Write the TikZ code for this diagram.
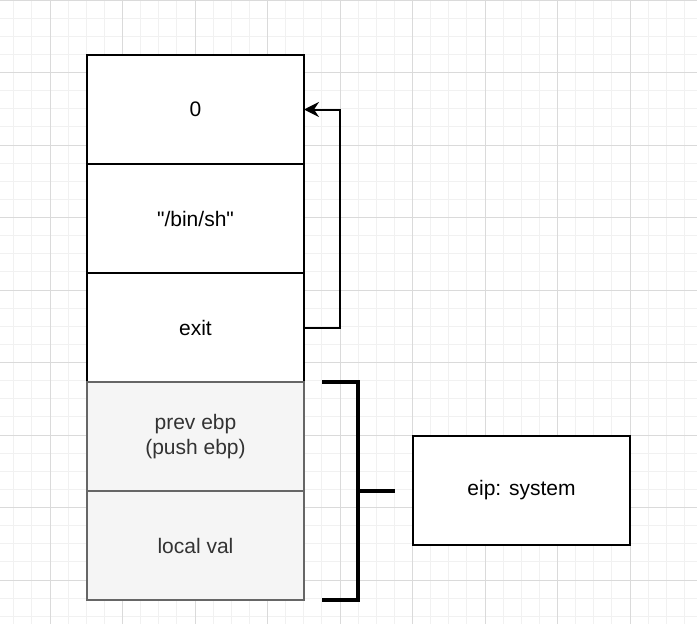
\documentclass[tikz,border=0pt]{standalone}
\usepackage{fontspec}
\newfontfamily\cellfont{Liberation Sans}
\usetikzlibrary{arrows.meta, positioning}
\definecolor{gridminor}{RGB}{241,241,241}
\definecolor{gridmajor}{RGB}{218,218,218}
\definecolor{cellgray}{RGB}{245,245,245}
\definecolor{cellline}{RGB}{102,102,102}
\definecolor{celltext}{RGB}{51,51,51}
\tikzset{
    % one stack slot, white with a black frame
    cell/.style={draw, line width=1.8pt, fill=white, minimum width=217pt,
                 minimum height=109pt, inner sep=0pt, outer sep=0pt,
                 align=center, font=\cellfont\fontsize{21}{25}\selectfont},
    % slots of the current frame, greyed out
    framecell/.style={cell, draw=cellline, fill=cellgray, text=celltext},
    % return jump arrow
    edge/.style={-{Stealth[length=15pt, width=15pt, inset=5pt]}, line width=2pt},
    % square bracket round the frame
    bracket/.style={line width=3.6pt},
}

\begin{document}
\begin{tikzpicture}[x=1pt, y=-1pt, node distance=0pt]
    \useasboundingbox (0,0) rectangle (697,624);

    % ===== background grid =====
    \begin{scope}
    \clip (0,0) rectangle (697,624);
    \foreach \i in {0,...,40} {
        \draw[gridminor, line width=1pt] (-22.5+18.125*\i, 0) -- ++(0, 624);
        \draw[gridminor, line width=1pt] (0, 18.125*\i) -- ++(697, 0);
    }
    \foreach \i in {0,...,10} {
        \draw[gridmajor, line width=1pt] (-22.5+72.5*\i, 0) -- ++(0, 624);
        \draw[gridmajor, line width=1pt] (0, 72.5*\i) -- ++(697, 0);
    }
    \end{scope}

    % ===== stack =====
    \node[cell] (zero) at (195.5, 109.5) {0};
    \node[cell, below=of zero]  (binsh) {"/bin/sh"};
    \node[cell, below=of binsh] (exitc) {exit};
    \node[framecell, below=of exitc] (prev)  {prev ebp\\(push ebp)};
    \node[framecell, below=of prev]  (local) {local val};

    % return address of exit points back up
    \draw[edge] (exitc.east) -- ++(36, 0) |- (zero.east);

    % ===== saved eip =====
    \node[cell, minimum width=217pt] (eip) at (521.5, 490.5) {eip: system};

    \draw[bracket] ([xshift=18pt]prev.north east) -| ([xshift=54pt]local.south east)
        -- ([xshift=18pt]local.south east);
    \draw[bracket] ([xshift=54pt]prev.south east) -- ++(37, 0);

\end{tikzpicture}
\end{document}
